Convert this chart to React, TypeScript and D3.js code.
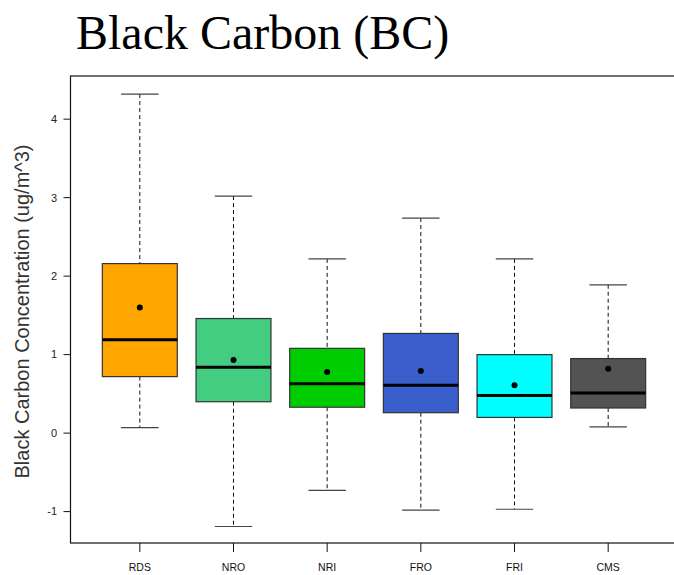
import * as d3 from "d3";

const categories = ["RDS", "NRO", "NRI", "FRO", "FRI", "CMS"];
const lowerWhisker = [0.07, -1.19, -0.73, -0.98, -0.97, 0.08];
const q1 = [0.72, 0.4, 0.33, 0.26, 0.2, 0.32];
const medians = [1.19, 0.84, 0.63, 0.61, 0.48, 0.51];
const q3 = [2.16, 1.46, 1.08, 1.27, 1.0, 0.95];
const upperWhisker = [4.32, 3.02, 2.22, 2.74, 2.22, 1.89];
const means = [1.6, 0.93, 0.78, 0.79, 0.61, 0.82];
const fills = ["#FFA500", "#43CD80", "#00CD00", "#3A5FCD", "#00FFFF", "#535353"];
const yTicks = [-1, 0, 1, 2, 3, 4];

const W = 674, H = 575;

export default function App() {
  const x = d3.scaleLinear().domain([0.26, 6.74]).range([70.5, 677.5]);
  const y = d3.scaleLinear().domain([-1.4, 4.55]).range([543, 76]);
  const unit = x(2) - x(1);
  const boxW = unit * 0.8;
  const capW = unit * 0.4;
  const sans = "Liberation Sans, Arial, sans-serif";

  return (
    <svg width={W} height={H} style={{ position: "absolute", left: 0, top: 0, background: "#fff" }}>
      <text x={76} y={49} fontFamily="Liberation Serif, Times New Roman, serif" fontSize={48} fill="#000">
        Black Carbon (BC)
      </text>

      {/* plot frame, right edge falls off the picture */}
      <rect x={x(0.26)} y={y(4.55)} width={x(6.74) - x(0.26)} height={y(-1.4) - y(4.55)}
        fill="none" stroke="#111" strokeWidth={1.2} />

      {yTicks.map(t => (
        <g key={t} transform={`translate(0,${y(t)})`}>
          <line x1={x(0.26) - 7} x2={x(0.26)} stroke="#111" />
          <text x={57} dy="0.35em" textAnchor="end" fontFamily={sans} fontSize={11} fill="#222">{t}</text>
        </g>
      ))}

      <text transform={`translate(28.5,311.5) rotate(-90)`} textAnchor="middle"
        fontFamily={sans} fontSize={20} fill="#333">
        Black Carbon Concentration (ug/m^3)
      </text>

      {categories.map((c, i) => {
        const cx = x(i + 1);
        return (
          <g key={c}>
            <line x1={cx} x2={cx} y1={y(-1.4)} y2={y(-1.4) + 9} stroke="#111" />
            <text x={cx} y={571} textAnchor="middle" fontFamily={sans} fontSize={10.5} fill="#111">{c}</text>

            <line x1={cx} x2={cx} y1={y(upperWhisker[i])} y2={y(q3[i])} stroke="#111" strokeDasharray="4,3" />
            <line x1={cx} x2={cx} y1={y(q1[i])} y2={y(lowerWhisker[i])} stroke="#111" strokeDasharray="4,3" />
            <line x1={cx - capW / 2} x2={cx + capW / 2} y1={y(upperWhisker[i])} y2={y(upperWhisker[i])}
              stroke="#444" strokeWidth={1.2} />
            <line x1={cx - capW / 2} x2={cx + capW / 2} y1={y(lowerWhisker[i])} y2={y(lowerWhisker[i])}
              stroke="#444" strokeWidth={1.2} />

            <rect x={cx - boxW / 2} y={y(q3[i])} width={boxW} height={y(q1[i]) - y(q3[i])}
              fill={fills[i]} stroke="#333" strokeWidth={1.2} />
            <line x1={cx - boxW / 2} x2={cx + boxW / 2} y1={y(medians[i])} y2={y(medians[i])}
              stroke="#000" strokeWidth={3} />
            <circle cx={cx} cy={y(means[i])} r={3} fill="#000" />
          </g>
        );
      })}
    </svg>
  );
}
